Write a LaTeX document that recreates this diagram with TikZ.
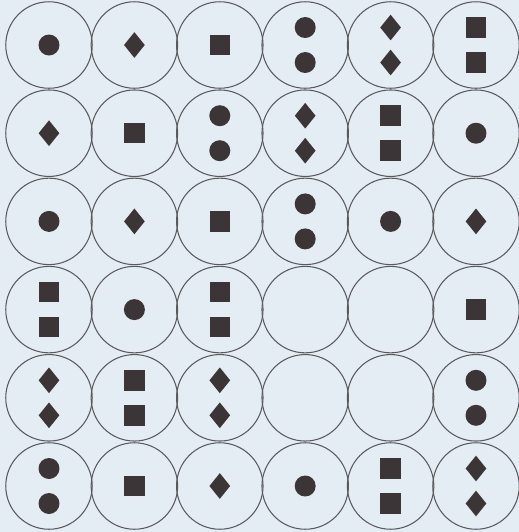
\documentclass[tikz,border=0pt]{standalone}
\usepackage{xcolor}
\usepackage{tikz}
\usetikzlibrary{shapes.geometric}
\definecolor{paper}{HTML}{E4EDF3}
\definecolor{rim}{HTML}{5A5A5E}
\definecolor{ink}{HTML}{3B3538}
\tikzset{
  cellring/.style={circle,draw=rim,line width=0.6pt,inner sep=0pt,minimum size=1.73cm},
  sym-c/.style={circle,fill=ink,inner sep=0pt,minimum size=0.42cm},
  sym-d/.style={diamond,fill=ink,inner sep=0pt,minimum width=0.42cm,minimum height=0.52cm},
  sym-s/.style={rectangle,fill=ink,inner sep=0pt,minimum size=0.41cm},
  sym-e/.style={inner sep=0pt}
}
\begin{document}
\begin{tikzpicture}[x=0.02cm,y=-0.02cm]
  \fill[paper] (0,0) rectangle (519,532);
  \useasboundingbox (0,0) rectangle (519,532);
  % kind/count per cell: c circle, d diamond, s square, e empty
  \foreach \row/\cells in {
    1/{c/1,d/1,s/1,c/2,d/2,s/2},
    2/{d/1,s/1,c/2,d/2,s/2,c/1},
    3/{c/1,d/1,s/1,c/2,c/1,d/1},
    4/{s/2,c/1,s/2,e/0,e/0,s/1},
    5/{d/2,s/2,d/2,e/0,e/0,c/2},
    6/{c/2,s/1,d/1,c/1,s/2,d/2}}{
    \foreach \kind/\num [count=\col] in \cells {
      \pgfmathsetmacro{\xx}{49+(\col-1)*85.4}
      \pgfmathsetmacro{\yy}{45+(\row-1)*88.2}
      \node[cellring] (cell-\row-\col) at (\xx,\yy) {};
      \ifnum\num=1
        \node[sym-\kind] (sym-\row-\col-a) at (\xx,\yy) {};
      \fi
      \ifnum\num=2
        \node[sym-\kind] (sym-\row-\col-a) at (\xx,\yy-17.5) {};
        \node[sym-\kind] (sym-\row-\col-b) at (\xx,\yy+17.5) {};
      \fi
    }
  }
\end{tikzpicture}
\end{document}
